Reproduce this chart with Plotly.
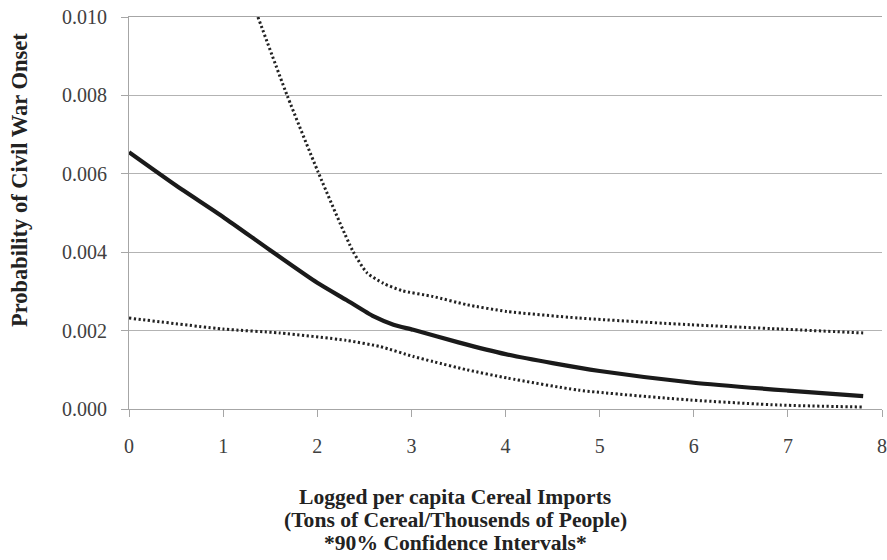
import plotly.graph_objects as go

# Predicted probability (solid line)
x_main = [0, 0.5, 1.0, 1.5, 2.0, 2.31, 2.6, 2.81, 3.02, 3.5, 4.0, 4.5, 5.0, 6.0, 7.0, 7.8]
y_main = [0.00655, 0.0057, 0.0049, 0.00405, 0.00322, 0.00278, 0.00236, 0.00215, 0.00202,
          0.0017, 0.0014, 0.00117, 0.00097, 0.00067, 0.00047, 0.00033]

# Upper 90% confidence bound (dotted)
x_up = [1.37, 1.68, 2.01, 2.38, 2.53, 2.70, 2.90, 3.23, 3.59, 4.01, 4.78, 5.96, 6.92, 7.8]
y_up = [0.0100, 0.0080, 0.00604, 0.00402, 0.00347, 0.00321, 0.00302, 0.00287, 0.00266,
        0.00249, 0.00232, 0.00215, 0.00204, 0.00194]

# Lower 90% confidence bound (dotted)
x_lo = [0, 1.0, 1.6, 2.31, 2.67, 3.02, 3.23, 3.59, 4.02, 4.78, 5.96, 6.92, 7.8]
y_lo = [0.00232, 0.00204, 0.00194, 0.00175, 0.00159, 0.00134, 0.00121, 0.00100, 0.00079,
        0.00048, 0.00023, 0.00010, 0.00005]

x_ticks = [0, 1, 2, 3, 4, 5, 6, 7, 8]
y_ticks = [0.000, 0.002, 0.004, 0.006, 0.008, 0.010]
y_tick_labels = ["0.000", "0.002", "0.004", "0.006", "0.008", "0.010"]

x_title_lines = ["Logged per capita Cereal Imports",
                 "(Tons of Cereal/Thousends of People)",
                 "*90% Confidence Intervals*"]
y_title = "Probability of Civil War Onset"

fig = go.Figure()
dot_line = dict(color="#222222", width=3, dash="2.2px,2.5px", shape="spline", smoothing=0.6)
fig.add_trace(go.Scatter(x=x_up, y=y_up, mode="lines", line=dot_line, hoverinfo="skip"))
fig.add_trace(go.Scatter(x=x_lo, y=y_lo, mode="lines", line=dot_line, hoverinfo="skip"))
fig.add_trace(go.Scatter(x=x_main, y=y_main, mode="lines", hoverinfo="skip",
                         line=dict(color="#1a1a1a", width=4.2,
                                   shape="spline", smoothing=0.6)))

tickfont = dict(family="Liberation Serif", size=20, color="#404040")
fig.update_layout(
    template="none",
    width=887, height=560,
    margin=dict(l=129, r=5, t=17, b=151, pad=0),
    paper_bgcolor="white", plot_bgcolor="white",
    showlegend=False,
    xaxis=dict(range=[0, 8], tickvals=x_ticks, ticktext=[str(t) for t in x_ticks],
               automargin=False, ticklabeloverflow="allow",
               showgrid=False, zeroline=False, showline=True, linecolor="#a6a6a6",
               linewidth=1, ticks="outside", ticklen=7, tickcolor="#a6a6a6",
               tickfont=tickfont, ticklabelstandoff=12),
    yaxis=dict(range=[0, 0.0100001], tickvals=y_ticks, ticktext=y_tick_labels,
               automargin=False, ticklabeloverflow="allow",
               showgrid=True, gridcolor="#b3b3b3", gridwidth=1, zeroline=False,
               showline=True, linecolor="#a6a6a6", linewidth=1, ticks="outside",
               ticklen=7, tickcolor="#a6a6a6", tickfont=tickfont,
               ticklabelstandoff=10),
)
# top gridline at 0.010 (edge of the plot area)
fig.update_xaxes(mirror=True)

title_font = dict(family="Liberation Serif", size=21.6, color="#222222")
line_y_px = [497, 520, 543]
for txt, ypx in zip(x_title_lines, line_y_px):
    fig.add_annotation(text="<b>" + txt + "</b>", xref="paper", yref="paper",
                       x=(455 - 129) / 753, y=(409 - ypx) / 392,
                       xanchor="center", yanchor="middle", showarrow=False,
                       font=title_font)
fig.add_annotation(text="<b>" + y_title + "</b>", xref="paper", yref="paper",
                   x=(19 - 129) / 753, y=(409 - 180) / 392,
                   xanchor="center", yanchor="middle",
                   showarrow=False, textangle=-90, borderpad=0,
                   font=dict(family="Liberation Serif", size=22.5, color="#222222"))

# remove the browser's default 8px page margin so the figure fills the window
fig.write_html("out.html",
               config={"displayModeBar": False},
               post_script="document.body.style.margin='0';document.body.style.overflow='hidden';")
